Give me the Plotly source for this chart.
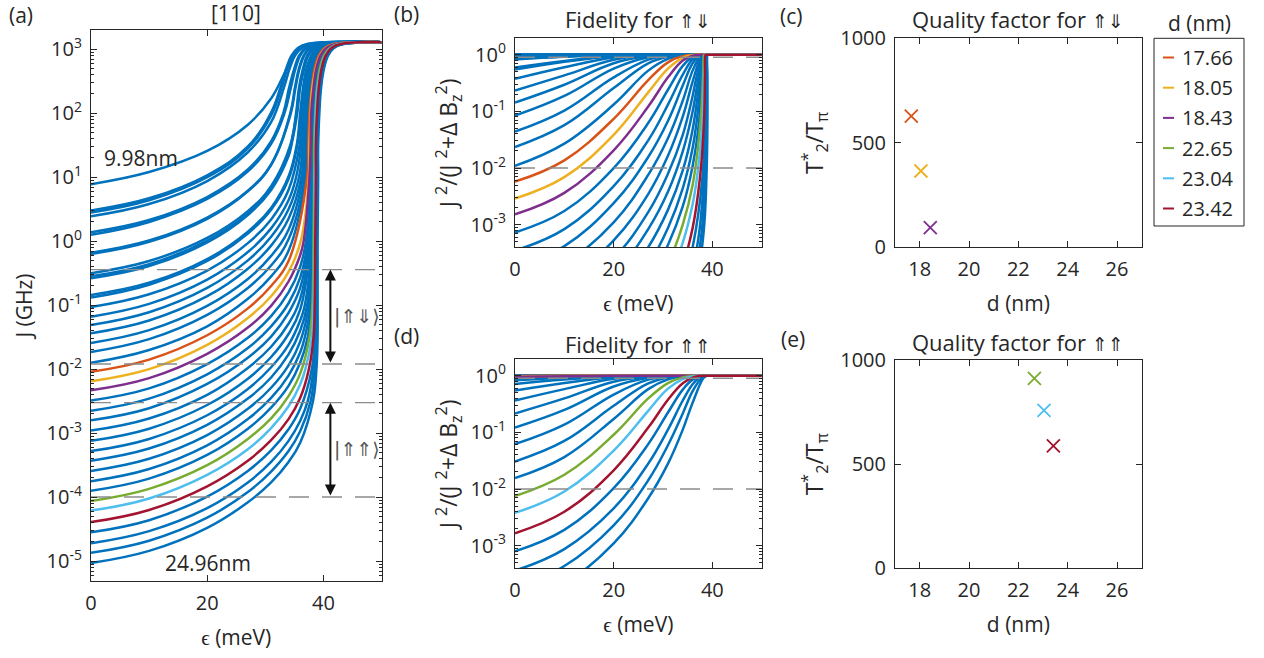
import numpy as np
import plotly.graph_objects as go

W, H = 1264, 658
FONT = "Open Sans"
TXT = "#262626"
BLUE = "#0072BD"
N = None

# ---------------- data ----------------
# interdot distance of each of the 40 curves (top curve 9.98 nm ... bottom curve 24.96 nm)
d_nm = [9.98, 10.36, 10.75, 11.13, 11.52, 11.90, 12.28, 12.67, 13.05, 13.44,
        13.82, 14.20, 14.59, 14.97, 15.36, 15.74, 16.12, 16.51, 16.89, 17.28,
        17.66, 18.05, 18.43, 18.81, 19.20, 19.58, 19.97, 20.35, 20.73, 21.12,
        21.50, 21.89, 22.27, 22.65, 23.04, 23.42, 23.81, 24.19, 24.57, 24.96]

# log10 J (GHz) of every curve at fixed detunings (None: curve already in its steep rise)
eps_fixed = [0, 10, 20, 27, 31, 34, 36]
logJ_eps0 = [0.89, 0.48, 0.45, 0.39, 0.14, 0.10, -0.18, -0.20, -0.50, -0.55,
             -0.58, -0.84, -0.88, -1.03, -1.18, -1.31, -1.44, -1.59, -1.73, -1.90,
             -2.04, -2.19, -2.33, -2.49, -2.65, -2.80, -2.96, -3.12, -3.28, -3.43,
             -3.59, -3.75, -3.90, -4.06, -4.21, -4.39, -4.55, -4.72, -4.87, -5.03]
logJ_eps10 = [1.08, 0.67, 0.64, 0.58, 0.33, 0.30, 0.01, -0.01, -0.31, -0.36,
              -0.39, -0.65, -0.68, -0.83, -0.98, -1.11, -1.24, -1.39, -1.53, -1.70,
              -1.85, -2.00, -2.14, -2.30, -2.46, -2.61, -2.77, -2.93, -3.09, -3.24,
              -3.40, -3.56, -3.71, -3.87, -4.02, -4.20, -4.36, -4.53, -4.68, -4.84]
logJ_eps20 = [1.41, 1.03, 1.00, 0.94, 0.69, 0.66, 0.37, 0.35, 0.05, 0.01,
              -0.02, -0.28, -0.31, -0.46, -0.60, -0.73, -0.86, -1.01, -1.15, -1.33,
              -1.47, -1.62, -1.76, -1.92, -2.08, -2.23, -2.40, -2.56, -2.72, -2.87,
              -3.03, -3.19, -3.34, -3.50, -3.65, -3.83, -3.99, -4.17, -4.32, -4.48]
logJ_eps27 = [1.82, 1.48, 1.45, 1.39, 1.12, 1.09, 0.79, 0.78, 0.47, 0.43,
              0.41, 0.15, 0.12, -0.03, -0.17, -0.30, -0.43, -0.59, -0.73, -0.90,
              -1.05, -1.20, -1.35, -1.51, -1.67, -1.82, -1.98, -2.15, -2.31, -2.46,
              -2.62, -2.78, -2.93, -3.09, -3.25, -3.43, -3.59, -3.77, -3.92, -4.08]
logJ_eps31 = [2.23, 2.01, 1.96, 1.86, 1.56, 1.52, 1.20, 1.19, 0.86, 0.82,
              0.80, 0.52, 0.49, 0.34, 0.20, 0.07, -0.07, -0.23, -0.38, -0.55,
              -0.70, -0.86, -1.01, -1.17, -1.33, -1.49, -1.65, -1.81, -1.97, -2.13,
              -2.29, -2.45, -2.60, -2.77, -2.92, -3.11, -3.27, -3.45, -3.60, -3.77]
logJ_eps34 = [2.74, N, N, N, N, N, N, N, N, 1.36,
              1.33, 1.01, 0.97, 0.80, 0.64, 0.50, 0.35, 0.18, 0.03, -0.15,
              -0.31, -0.48, -0.63, -0.80, -0.97, -1.12, -1.29, -1.45, -1.62, -1.77,
              -1.94, -2.10, -2.26, -2.42, -2.58, -2.78, -2.94, -3.12, -3.28, -3.45]
logJ_eps36 = [3.00] + [N] * 21 + [-0.22, -0.40, -0.57, -0.73, -0.90, -1.07, -1.24, -1.40,
                                  -1.57, -1.74, -1.90, -2.07, -2.24, -2.45, -2.62, -2.81, -2.97, -3.15]

# detuning (meV) at which each curve reaches a given log10 J level (None: not read / not crossed there)
logJ_levels = [-2.5, -2, -1.5, -1, 0, 1, 1.5, 2, 2.4, 2.7, 2.9, 3.02, 3.08]
eps_at_m2p5 = [N] * 37 + [37.3, 37.8, 38.2]
eps_at_m2 = [N] * 34 + [36.9, 37.5, 38.0, 38.3, 38.5, 38.8]
eps_at_m1p5 = [N] * 31 + [36.8, 37.3, 37.6, 38.0, 38.3, 38.5, 38.7, 38.8, 39.0]
eps_at_m1 = [N] * 28 + [36.8, 37.2, 37.5, 37.8, 37.9, 38.1, 38.3, 38.5, 38.7, 38.8, 38.9, 39.0]
eps_at_0 = [N] * 21 + [36.1, 36.6, 37.0, 37.3, 37.5, 37.7, 37.8, 38.0, 38.0, 38.1,
                       38.2, 38.3, 38.3, 38.5, 38.6, 38.7, 38.8, 38.9, 39.0]
eps_at_1 = [N] * 14 + [35.3, 35.8, 36.2, 36.5, 36.8, 37.0, 37.2, 37.5, 37.6, 37.8,
                       37.9, 37.9, 38.0, 38.0, 38.1, 38.2, 38.2, 38.3, 38.4, 38.4,
                       38.5, 38.7, 38.8, 38.9, 39.0, 39.1]
eps_at_1p5 = [N] * 8 + [34.3, 34.4, 34.5, 35.4, 35.5, 35.9, 36.2, 36.5, 36.7, 37.0,
                        37.1, 37.3, 37.4, 37.6, 37.8, 37.9, 37.9, 38.0, 38.1, 38.1,
                        38.2, 38.2, 38.3, 38.3, 38.4, 38.4, 38.6, 38.7, 38.8, 38.9,
                        39.0, 39.1]
eps_at_2 = [N] * 4 + [33.1, 33.3, 34.3, 34.4, 35.3, 35.4, 35.5, 36.0, 36.2, 36.4,
                      36.7, 36.9, 37.1, 37.2, 37.4, 37.5, 37.6, 37.8, 37.9, 38.0,
                      38.1, 38.2, 38.2, 38.3, 38.3, 38.4, 38.4, 38.5, 38.5, 38.6,
                      38.7, 38.9, 39.0, 39.1, 39.2, 39.3]
eps_at_2p4 = [N, 32.6, 32.8, 33.2, 34.1, 34.4, 35.1, 35.2, 35.8, 35.9,
              36.0, 36.5, 36.6, 36.8, 37.1, 37.3, 37.4, 37.6, 37.7, 37.8,
              38.0, 38.1, 38.3, 38.4, 38.4, 38.5, 38.5, 38.6, 38.6, 38.7,
              38.7, 38.8, 38.8, 38.9, 39.0, 39.2, 39.3, 39.4, 39.5, 39.6]
eps_at_2p7 = [N, 33.6, 33.8, 34.2, 35.0, 35.2, 35.8, 35.9, 36.5, 36.6,
              36.7, 37.1, 37.2, 37.4, 37.6, 37.8, 38.0, 38.1, 38.2, 38.3,
              38.5, 38.7, 38.8, 38.9, 39.0, 39.0, 39.1, 39.1, 39.2, 39.2,
              39.3, 39.3, 39.4, 39.4, 39.6, 39.7, 39.8, 39.9, 40.0, 40.1]
eps_at_2p9 = [N, 34.5, 34.7, 35.1, 35.8, 36.0, 36.6, 36.7, 37.2, 37.3,
              37.4, 37.9, 38.0, 38.2, 38.4, 38.6, 38.7, 38.9, 39.0, 39.1,
              39.2, 39.4, 39.5, 39.6, 39.7, 39.7, 39.8, 39.8, 39.9, 39.9,
              40.0, 40.0, 40.1, 40.1, 40.3, 40.4, 40.5, 40.6, 40.7, 40.8]
eps_at_3p02 = [N, 35.6, 35.8, 36.2, 36.9, 37.1, 37.6, 37.7, 38.2, 38.4,
               38.5, 38.9, 39.0, 39.2, 39.4, 39.6, 39.7, 39.9, 40.0, 40.1,
               40.2, 40.4, 40.5, 40.6, 40.7, 40.7, 40.8, 40.8, 40.9, 40.9,
               41.0, 41.0, 41.1, 41.1, 41.3, 41.4, 41.5, 41.6, 41.7, 41.8]
eps_at_3p08 = [38.5, 37.2, 37.4, 37.8, 38.4, 38.6, 39.2, 39.3, 39.8, 39.9,
               40.0, 40.4, 40.5, 40.7, 40.9, 41.1, 41.3, 41.4, 41.5, 41.6,
               41.8, 41.9, 42.1, 42.2, 42.2, 42.3, 42.3, 42.4, 42.4, 42.5,
               42.5, 42.6, 42.6, 42.7, 42.8, 43.0, 43.1, 43.2, 43.3, 43.4]
eps_end, logJ_plateau = 50, 3.11

# highlighted curves (index into the 40 curves) and their colours
hl = {20: "#D95319", 21: "#EDB120", 22: "#7E2F8E", 33: "#77AC30", 34: "#4DBEEE", 35: "#A2142F"}
# Zeeman-energy differences (GHz) for the up-down and up-up configurations, fidelity thresholds
dBz_GHz = [0.12, 0.001]
F_levels = [0.01, 0.9]

# quality factors
q1_d = [17.66, 18.05, 18.43]; q1 = [628, 365, 94]
q2_d = [22.65, 23.04, 23.42]; q2 = [912, 758, 588]

yt_a = [-5, -4, -3, -2, -1, 0, 1, 2, 3]
yt_f = [-3, -2, -1, 0]
xt_eps = [0, 20, 40]
xt_d = [18, 20, 22, 24, 26]
yt_q = [0, 500, 1000]

# ---------------- build curves ----------------
fixed_cols = [logJ_eps0, logJ_eps10, logJ_eps20, logJ_eps27, logJ_eps31, logJ_eps34, logJ_eps36]
level_cols = [eps_at_m2p5, eps_at_m2, eps_at_m1p5, eps_at_m1, eps_at_0, eps_at_1, eps_at_1p5,
              eps_at_2, eps_at_2p4, eps_at_2p7, eps_at_2p9, eps_at_3p02, eps_at_3p08]


def curve_points(i):
    pts = [(e, col[i]) for e, col in zip(eps_fixed, fixed_cols) if col[i] is not None]
    pts += [(col[i], lv) for lv, col in zip(logJ_levels, level_cols) if col[i] is not None]
    pts.append((eps_end, logJ_plateau))
    pts.sort(key=lambda p: p[0])
    x = np.array([p[0] for p in pts], dtype=float)
    J = 10.0 ** np.array([p[1] for p in pts], dtype=float)
    return x, J


B1, B2 = dBz_GHz
fig = go.Figure()
order = [i for i in range(40) if i not in hl] + list(hl.keys())
LS = dict(width=2.5, shape="spline", smoothing=1.15)
for i in order:
    col = hl.get(i, BLUE)
    x, J = curve_points(i)
    fig.add_trace(go.Scatter(x=x, y=J, mode="lines", line=dict(LS, color=col),
                             xaxis="x", yaxis="y", showlegend=False, hoverinfo="skip"))
    fig.add_trace(go.Scatter(x=x, y=J ** 2 / (J ** 2 + B1 ** 2), mode="lines", line=dict(LS, color=col),
                             xaxis="x2", yaxis="y2", showlegend=False, hoverinfo="skip"))
    fig.add_trace(go.Scatter(x=x, y=J ** 2 / (J ** 2 + B2 ** 2), mode="lines", line=dict(LS, color=col),
                             xaxis="x4", yaxis="y4", showlegend=False, hoverinfo="skip"))

DASH = dict(color="#8c8c8c", width=1.4, dash="20px,13px")
for B in dBz_GHz:
    for F in F_levels:
        Jl = B * np.sqrt(F / (1 - F))
        fig.add_trace(go.Scatter(x=[0, eps_end], y=[Jl, Jl], mode="lines", line=DASH, xaxis="x", yaxis="y",
                                 showlegend=False, hoverinfo="skip"))
for ax in ("2", "4"):
    for F in F_levels:
        fig.add_trace(go.Scatter(x=[0, eps_end], y=[F, F], mode="lines", line=DASH, xaxis="x" + ax,
                                 yaxis="y" + ax, showlegend=False, hoverinfo="skip"))

for dd, qq, ax, idx in ((q1_d, q1, "3", [20, 21, 22]), (q2_d, q2, "5", [33, 34, 35])):
    for x, y, i in zip(dd, qq, idx):
        fig.add_trace(go.Scatter(x=[x], y=[y], mode="markers", xaxis="x" + ax, yaxis="y" + ax,
                                 marker=dict(symbol="x-thin", size=13, line=dict(color=hl[i], width=1.8)),
                                 showlegend=False, hoverinfo="skip"))


# ---------------- layout ----------------
def dx(a, b):
    return [a / W, b / W]


def dy(top, bot):
    return [1 - bot / H, 1 - top / H]


base = dict(showline=True, linecolor=TXT, linewidth=1, mirror="ticks", ticks="inside", ticklen=6,
            tickcolor=TXT, tickfont=dict(size=20, color=TXT, family=FONT), showgrid=False, zeroline=False,
            ticklabelstandoff=4, automargin=False)
xbase = dict(base, ticklabelstandoff=4)


def logax(vals):
    return dict(base, type="log", tickvals=[10.0 ** v for v in vals],
                ticktext=["10<sup>%d</sup>" % v for v in vals],
                minor=dict(ticks="inside", ticklen=3, tickcolor=TXT, dtick="D1"))


TF = dict(size=21, color=TXT, family=FONT)
eps_title = dict(text="ϵ (meV)", font=TF, standoff=15)
d_title = dict(text="d (nm)", font=TF, standoff=15)
fid_title = dict(text="J <sup>2</sup>/(J <sup>2</sup>+Δ B<sub>z</sub><sup>2</sup>)", font=dict(TF, size=23), standoff=6)
q_title = dict(text="T<sup>*</sup><sub>2</sub>/T<sub>π</sub>", font=dict(TF, size=23), standoff=10)

fig.update_layout(
    width=W, height=H, autosize=False, margin=dict(l=0, r=0, t=0, b=0, pad=0, autoexpand=False),
    paper_bgcolor="white", plot_bgcolor="white", font=dict(family=FONT, color=TXT),
    xaxis=dict(xbase, domain=dx(91, 381.5), range=[0, 50], tickvals=xt_eps, title=eps_title, anchor="y"),
    yaxis=dict(logax(yt_a), domain=dy(30, 581), range=[-5.31, 3.30],
               title=dict(text="J (GHz)", font=TF, standoff=8), anchor="x"),
    xaxis2=dict(xbase, domain=dx(515, 761.7), range=[0, 50], tickvals=xt_eps, title=eps_title, anchor="y2"),
    yaxis2=dict(logax(yt_f), domain=dy(38.3, 247.3), range=[-3.40, 0.29], title=fid_title, anchor="x2"),
    xaxis4=dict(xbase, domain=dx(515, 761.7), range=[0, 50], tickvals=xt_eps, title=eps_title, anchor="y4"),
    yaxis4=dict(logax(yt_f), domain=dy(359.3, 568.3), range=[-3.40, 0.29], title=fid_title, anchor="x4"),
    xaxis3=dict(xbase, domain=dx(895, 1141.7), range=[17, 27], tickvals=xt_d, title=d_title, anchor="y3"),
    yaxis3=dict(base, domain=dy(38.3, 247.3), range=[0, 1000], tickvals=yt_q, title=q_title, anchor="x3"),
    xaxis5=dict(xbase, domain=dx(895, 1141.7), range=[17, 27], tickvals=xt_d, title=d_title, anchor="y5"),
    yaxis5=dict(base, domain=dy(360, 568.3), range=[0, 1000], tickvals=yt_q, title=q_title, anchor="x5"),
)

ann = []


def ptxt(x, y, text, size=21, color=TXT, xanchor="center"):
    ann.append(dict(x=x / W, y=1 - y / H, xref="paper", yref="paper", text=text, showarrow=False,
                    font=dict(size=size, color=color, family=FONT), xanchor=xanchor, yanchor="middle"))


ARR = '<span style="font-family:DejaVu Sans;font-size:19px">%s</span>'
ptxt(21, 15, "(a)"); ptxt(406, 14, "(b)"); ptxt(791, 16, "(c)"); ptxt(406, 336, "(d)"); ptxt(793, 339, "(e)")
ptxt(236, 13, "[110]")
ptxt(638, 19, "Fidelity for " + ARR % "⇑⇓", size=22)
ptxt(638, 344, "Fidelity for " + ARR % "⇑⇑", size=22)
ptxt(1018, 19, "Quality factor for " + ARR % "⇑⇓", size=22)
ptxt(1018, 342, "Quality factor for " + ARR % "⇑⇑", size=22)

ann.append(dict(x=8.6, y=1.30, xref="x", yref="y", text="%.2fnm" % d_nm[0], showarrow=False,
                font=dict(size=21, color=TXT, family=FONT)))
ann.append(dict(x=20.2, y=-5.03, xref="x", yref="y", text="%.2fnm" % d_nm[-1], showarrow=False,
                font=dict(size=21, color=TXT, family=FONT)))
for B, ket in zip(dBz_GHz, ("|⇑⇓⟩", "|⇑⇑⟩")):
    top = np.log10(B * np.sqrt(F_levels[1] / (1 - F_levels[1])))
    bot = np.log10(B * np.sqrt(F_levels[0] / (1 - F_levels[0])))
    ann.append(dict(x=41.2, y=top, ax=41.2, ay=bot, xref="x", yref="y", axref="x", ayref="y", text="",
                    showarrow=True, arrowhead=2, arrowside="end+start", arrowsize=1.1, arrowwidth=2,
                    arrowcolor="#111111"))
    ann.append(dict(x=45.8, y=(top + bot) / 2, xref="x", yref="y", text=ket, showarrow=False,
                    font=dict(size=19, color="#555555", family="DejaVu Sans")))

# legend box
fig.add_shape(type="rect", xref="paper", yref="paper", x0=1154 / W, x1=1244 / W, y0=1 - 226 / H, y1=1 - 38.3 / H,
              line=dict(color=TXT, width=1), fillcolor="white")
ptxt(1199, 23, "d (nm)")
for j, i in enumerate(hl.keys()):
    yy = 57.5 + j * 30.2
    fig.add_shape(type="line", xref="paper", yref="paper", x0=1163 / W, x1=1174 / W, y0=1 - yy / H, y1=1 - yy / H,
                  line=dict(color=hl[i], width=2))
    ptxt(1180, yy, "%.2f" % d_nm[i], size=20, xanchor="left")

fig.update_layout(annotations=ann)
fig.write_html("out.html")
